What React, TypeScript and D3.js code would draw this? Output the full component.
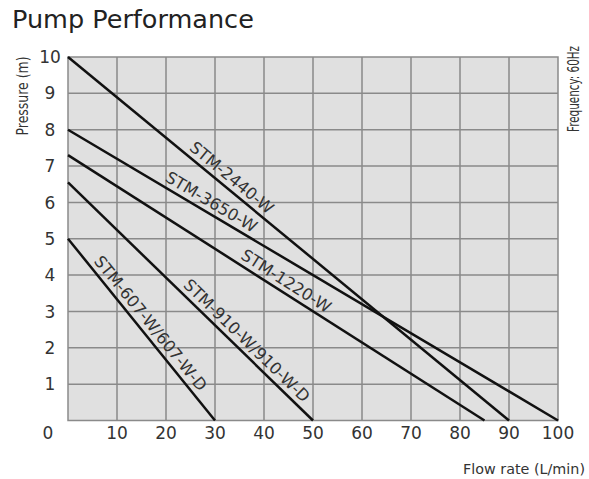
import React from "react";
import * as d3 from "d3";

const W = 589;
const H = 479;

const title = "Pump Performance";
const xTicks = [10, 20, 30, 40, 50, 60, 70, 80, 90, 100];
const yTicks = [1, 2, 3, 4, 5, 6, 7, 8, 9, 10];
const models = ["STM-2440-W", "STM-3650-W", "STM-1220-W", "STM-910-W/910-W-D", "STM-607-W/607-W-D"];
const shutoffPressure = [10, 8, 7.3, 6.55, 5];
const maxFlow = [90, 100, 85, 50, 30];
const labelFlow = [32.0, 28.1, 43.3, 34.9, 15.1];

const FONT = "'DejaVu Sans', sans-serif";
const TEXT = "#333";

export default function App() {
  const x = d3.scaleLinear().domain([0, 100]).range([68, 558]);
  const y = d3.scaleLinear().domain([0, 10]).range([420.5, 57]);
  const line = d3
    .line<[number, number]>()
    .x((d) => x(d[0]))
    .y((d) => y(d[1]));

  return (
    <svg width={W} height={H} style={{ position: "absolute", left: 0, top: 0, background: "#fff" }}>
      <text x={12} y={27.5} fontFamily={FONT} fontSize={25.5} fill="#222">
        {title}
      </text>
      <rect x={x(0)} y={y(10)} width={x(100) - x(0)} height={y(0) - y(10)} fill="#e0e0e0" />
      {xTicks.slice(0, -1).map((t) => (
        <line key={"gx" + t} x1={x(t)} x2={x(t)} y1={y(0)} y2={y(10)} stroke="#8a8a8a" strokeWidth={1.5} />
      ))}
      {yTicks.slice(0, -1).map((t) => (
        <line key={"gy" + t} x1={x(0)} x2={x(100)} y1={y(t)} y2={y(t)} stroke="#8a8a8a" strokeWidth={1.5} />
      ))}
      <rect x={x(0)} y={y(10)} width={x(100) - x(0)} height={y(0) - y(10)} fill="none" stroke="#8a8a8a" strokeWidth={1.5} />
      {models.map((m, i) => (
        <path
          key={"l" + m}
          d={line([
            [0, shutoffPressure[i]],
            [maxFlow[i], 0],
          ]) || ""}
          fill="none"
          stroke="#111"
          strokeWidth={2.5}
        />
      ))}
      {models.map((m, i) => {
        const f = labelFlow[i];
        const p = shutoffPressure[i] * (1 - f / maxFlow[i]);
        const dx = x(maxFlow[i]) - x(0);
        const dy = y(0) - y(shutoffPressure[i]);
        const ang = (Math.atan2(dy, dx) * 180) / Math.PI;
        return (
          <text
            key={"t" + m}
            transform={`translate(${x(f)},${y(p)}) rotate(${ang})`}
            y={-5.5}
            textAnchor="middle"
            fontFamily={FONT}
            fontSize={16.3}
            fill={TEXT}
          >
            {m}
          </text>
        );
      })}
      {yTicks.map((t) => (
        <text key={"yt" + t} x={50} y={y(t)} dy="0.36em" textAnchor="middle" fontFamily={FONT} fontSize={17} fill={TEXT}>
          {t}
        </text>
      ))}
      <text x={48} y={433} dy="0.36em" textAnchor="middle" fontFamily={FONT} fontSize={17} fill={TEXT}>
        0
      </text>
      {xTicks.map((t) => (
        <text key={"xt" + t} x={x(t)} y={433} dy="0.36em" textAnchor="middle" fontFamily={FONT} fontSize={17} fill={TEXT}>
          {t}
        </text>
      ))}
      <text
        transform="translate(27.5,96) rotate(-90)"
        textAnchor="middle"
        fontFamily={FONT}
        fontSize={15}
        fill={TEXT}
        textLength={79}
        lengthAdjust="spacingAndGlyphs"
      >
        Pressure (m)
      </text>
      <text
        x={463}
        y={474}
        fontFamily={FONT}
        fontSize={13.5}
        fill={TEXT}
        textLength={122}
        lengthAdjust="spacingAndGlyphs"
      >
        Flow rate (L/min)
      </text>
      <text
        transform="translate(579,89) rotate(-90)"
        textAnchor="middle"
        fontFamily={FONT}
        fontSize={15}
        fill={TEXT}
        textLength={86}
        lengthAdjust="spacingAndGlyphs"
      >
        Frequency: 60Hz
      </text>
    </svg>
  );
}
